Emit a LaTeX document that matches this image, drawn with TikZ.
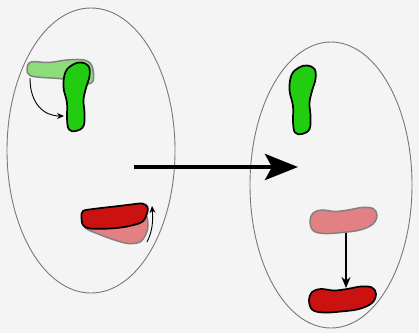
\documentclass[tikz,border=0pt]{standalone}
\usetikzlibrary{arrows.meta}
\definecolor{bg}{RGB}{244,244,244}
\definecolor{dgreen}{RGB}{34,204,17}
\definecolor{lgreen}{RGB}{140,220,122}
\definecolor{dred}{RGB}{204,17,17}
\definecolor{lred}{RGB}{226,128,132}
\definecolor{ringc}{RGB}{120,120,120}
\definecolor{fadeline}{RGB}{130,130,130}
\tikzset{
  gfoot/.pic={\path[pic actions] plot[smooth cycle,tension=0.65] coordinates {(18,-0.5) (25.5,3) (26.5,13) (23,25) (20.5,37) (21.5,50) (20.5,63) (13,68) (6,66.5) (4,56) (4,40) (0.5,24) (2.5,9) (10,1.5)};},
  gfade/.pic={\path[pic actions] plot[smooth cycle,tension=0.6] coordinates {(0,9) (4,2) (22,2.5) (40,0) (57,0) (65,6) (66,21) (56,24) (36,19) (16,17.5) (3,15.5)};},
  rfoot/.pic={\path[pic actions] plot[smooth cycle,tension=0.6] coordinates {(0,13) (3,5) (12,2) (25,3.5) (38,2) (52,-0.5) (63,0.5) (67,7) (63,16) (50,22) (32,24.5) (14,25.5) (3,22.5)};},
  darkshape/.style={draw=black,line width=1.7pt,line join=round},
  fadeshape/.style={draw=fadeline,line width=1.5pt,line join=round},
  ring/.style={draw=ringc,line width=0.9pt},
  smallarrow/.style={-{Stealth[length=7pt,width=6pt]},line width=0.9pt},
  midarrow/.style={-{Stealth[length=11pt,width=9pt]},line width=1.6pt},
  bigarrow/.style={-{Stealth[length=33pt,width=26pt,inset=7pt]},line width=4.6pt}
}
\begin{document}
\begin{tikzpicture}[x=1pt,y=-1pt]
\fill[bg] (0,0) rectangle (419,333);
\useasboundingbox (0,0) rectangle (419,333);
% ellipses
\draw[ring] (91,150.5) ellipse[x radius=84,y radius=142.5];
\draw[ring] (331,185) ellipse[x radius=81,y radius=143];
% big arrow
\coordinate (bigA) at (134,167);
\coordinate (bigB) at (298,167);
\draw[bigarrow] (bigA) -- (bigB);
% left green
\pic[fadeshape,fill=lgreen] at (27,60) {gfade};
\pic[darkshape,fill=dgreen] at (63,63) {gfoot};
\coordinate (ga) at (30,78);
\coordinate (gb) at (64,116);
\draw[smallarrow] (ga) .. controls (30,104) and (44,116) .. (gb);
% left red
\path[fadeshape,fill=lred] plot[smooth cycle,tension=0.55] coordinates {(83,214) (90,211) (110,212) (130,210) (145,214) (148,225) (146,234) (140,242) (128,243.5) (113,239.5) (97,233.5) (86,228.5) (82,221)};
\path[darkshape,fill=dred] plot[smooth cycle,tension=0.55] coordinates {(83,211) (93,209) (110,207) (127,205) (142,203.5) (147.5,207) (147,213.5) (142,222) (127,226.5) (110,228.5) (90,228.5) (83,225) (81.5,217)};
\coordinate (ra) at (147,242);
\coordinate (rb) at (152,206);
\draw[smallarrow] (ra) .. controls (153,230) and (153,220) .. (rb);
% right green
\pic[darkshape,fill=dgreen] at (289,66) {gfoot};
% right red
\pic[fadeshape,fill=lred] at (310,208) {rfoot};
\pic[darkshape,fill=dred] at (309,287) {rfoot};
\coordinate (rc) at (346,233);
\coordinate (rd) at (346,288);
\draw[midarrow] (rc) -- (rd);
\end{tikzpicture}
\end{document}
